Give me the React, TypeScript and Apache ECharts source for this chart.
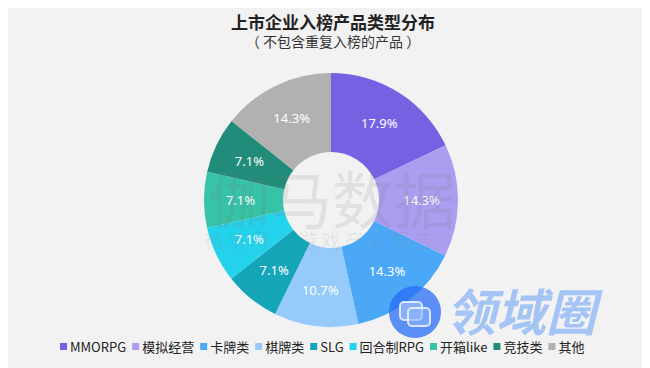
import React, { useEffect, useRef } from "react";
import * as echarts from "echarts";

const categories = ["MMORPG", "模拟经营", "卡牌类", "棋牌类", "SLG", "回合制RPG", "开箱like", "竞技类", "其他"];
const values = [17.9, 14.3, 14.3, 10.7, 7.1, 7.1, 7.1, 7.1, 14.3];
const colors = ["#7462E2", "#AC9DF0", "#4BA8F6", "#95CAFA", "#14A6B8", "#25D2EC", "#37C3A6", "#218C79", "#B1B1B1"];

export default function App() {
  const ref = useRef<HTMLDivElement>(null);
  useEffect(() => {
    const chart = echarts.init(ref.current!, null, { renderer: "svg" });
    chart.setOption({
      animation: false,
      backgroundColor: "#F2F2F2",
      title: {
        text: "上市企业入榜产品类型分布",
        subtext: "（ 不包含重复入榜的产品 ）",
        left: "center",
        top: 0,
        itemGap: 4,
        textStyle: { fontSize: 17, fontWeight: "bold", color: "#222", fontFamily: "Noto Sans CJK SC" },
        subtextStyle: { fontSize: 14, color: "#333", fontFamily: "Noto Sans CJK SC" },
      },
      legend: {
        bottom: 18,
        left: 47,
        itemWidth: 7,
        itemHeight: 7,
        itemGap: 6,
        icon: "rect",
        textStyle: { fontSize: 13, color: "#222", fontFamily: "Noto Sans CJK SC", padding: [0, 0, 0, -2] },
        data: categories,
      },
      color: colors,
      series: [
        {
          type: "pie",
          center: [323, 192],
          radius: [48, 127],
          startAngle: 90,
          clockwise: true,
          label: {
            show: true,
            position: "inside",
            formatter: (p: any) => p.value.toFixed(1) + "%",
            color: "#fff",
            fontSize: 13,
            fontFamily: "Noto Sans",
          },
          labelLine: { show: false },
          data: categories.map((c, i) => ({ name: c, value: values[i] })),
        },
      ],
      graphic: [
        {
          type: "text",
          left: 200,
          top: 158,
          z: 100,
          silent: true,
          style: { text: "伽马数据", fontSize: 62, fill: "rgba(120,120,120,0.14)", fontFamily: "Noto Sans CJK SC" },
        },
        {
          type: "text",
          left: 197,
          top: 222,
          z: 100,
          silent: true,
          style: { text: "微 信 号 ： 游 戏 产 业 报 告", fontSize: 19, fill: "rgba(120,120,120,0.13)", fontFamily: "Noto Sans CJK SC" },
        },
        {
          type: "circle",
          z: 100,
          shape: { cx: 407, cy: 304, r: 26 },
          style: { fill: "rgba(40,110,245,0.75)" },
        },
        {
          type: "rect",
          z: 101,
          shape: { x: 392, y: 294, width: 22, height: 18, r: 4 },
          style: { fill: "rgba(140,180,250,0.9)", stroke: "rgba(230,240,255,0.9)", lineWidth: 2 },
        },
        {
          type: "rect",
          z: 101,
          shape: { x: 400, y: 300, width: 22, height: 18, r: 4 },
          style: { fill: "rgba(140,180,250,0.6)", stroke: "rgba(230,240,255,0.9)", lineWidth: 2 },
        },
        {
          type: "text",
          left: 438,
          top: 276,
          z: 100,
          style: { text: "领域圈", fontSize: 50, fontWeight: "bold", fontStyle: "italic", fill: "rgba(110,165,245,0.6)", fontFamily: "Noto Sans CJK SC" },
        },
      ],
    });
    return () => chart.dispose();
  }, []);
  return <div ref={ref} style={{ width: 650, height: 368 }} />;
}
